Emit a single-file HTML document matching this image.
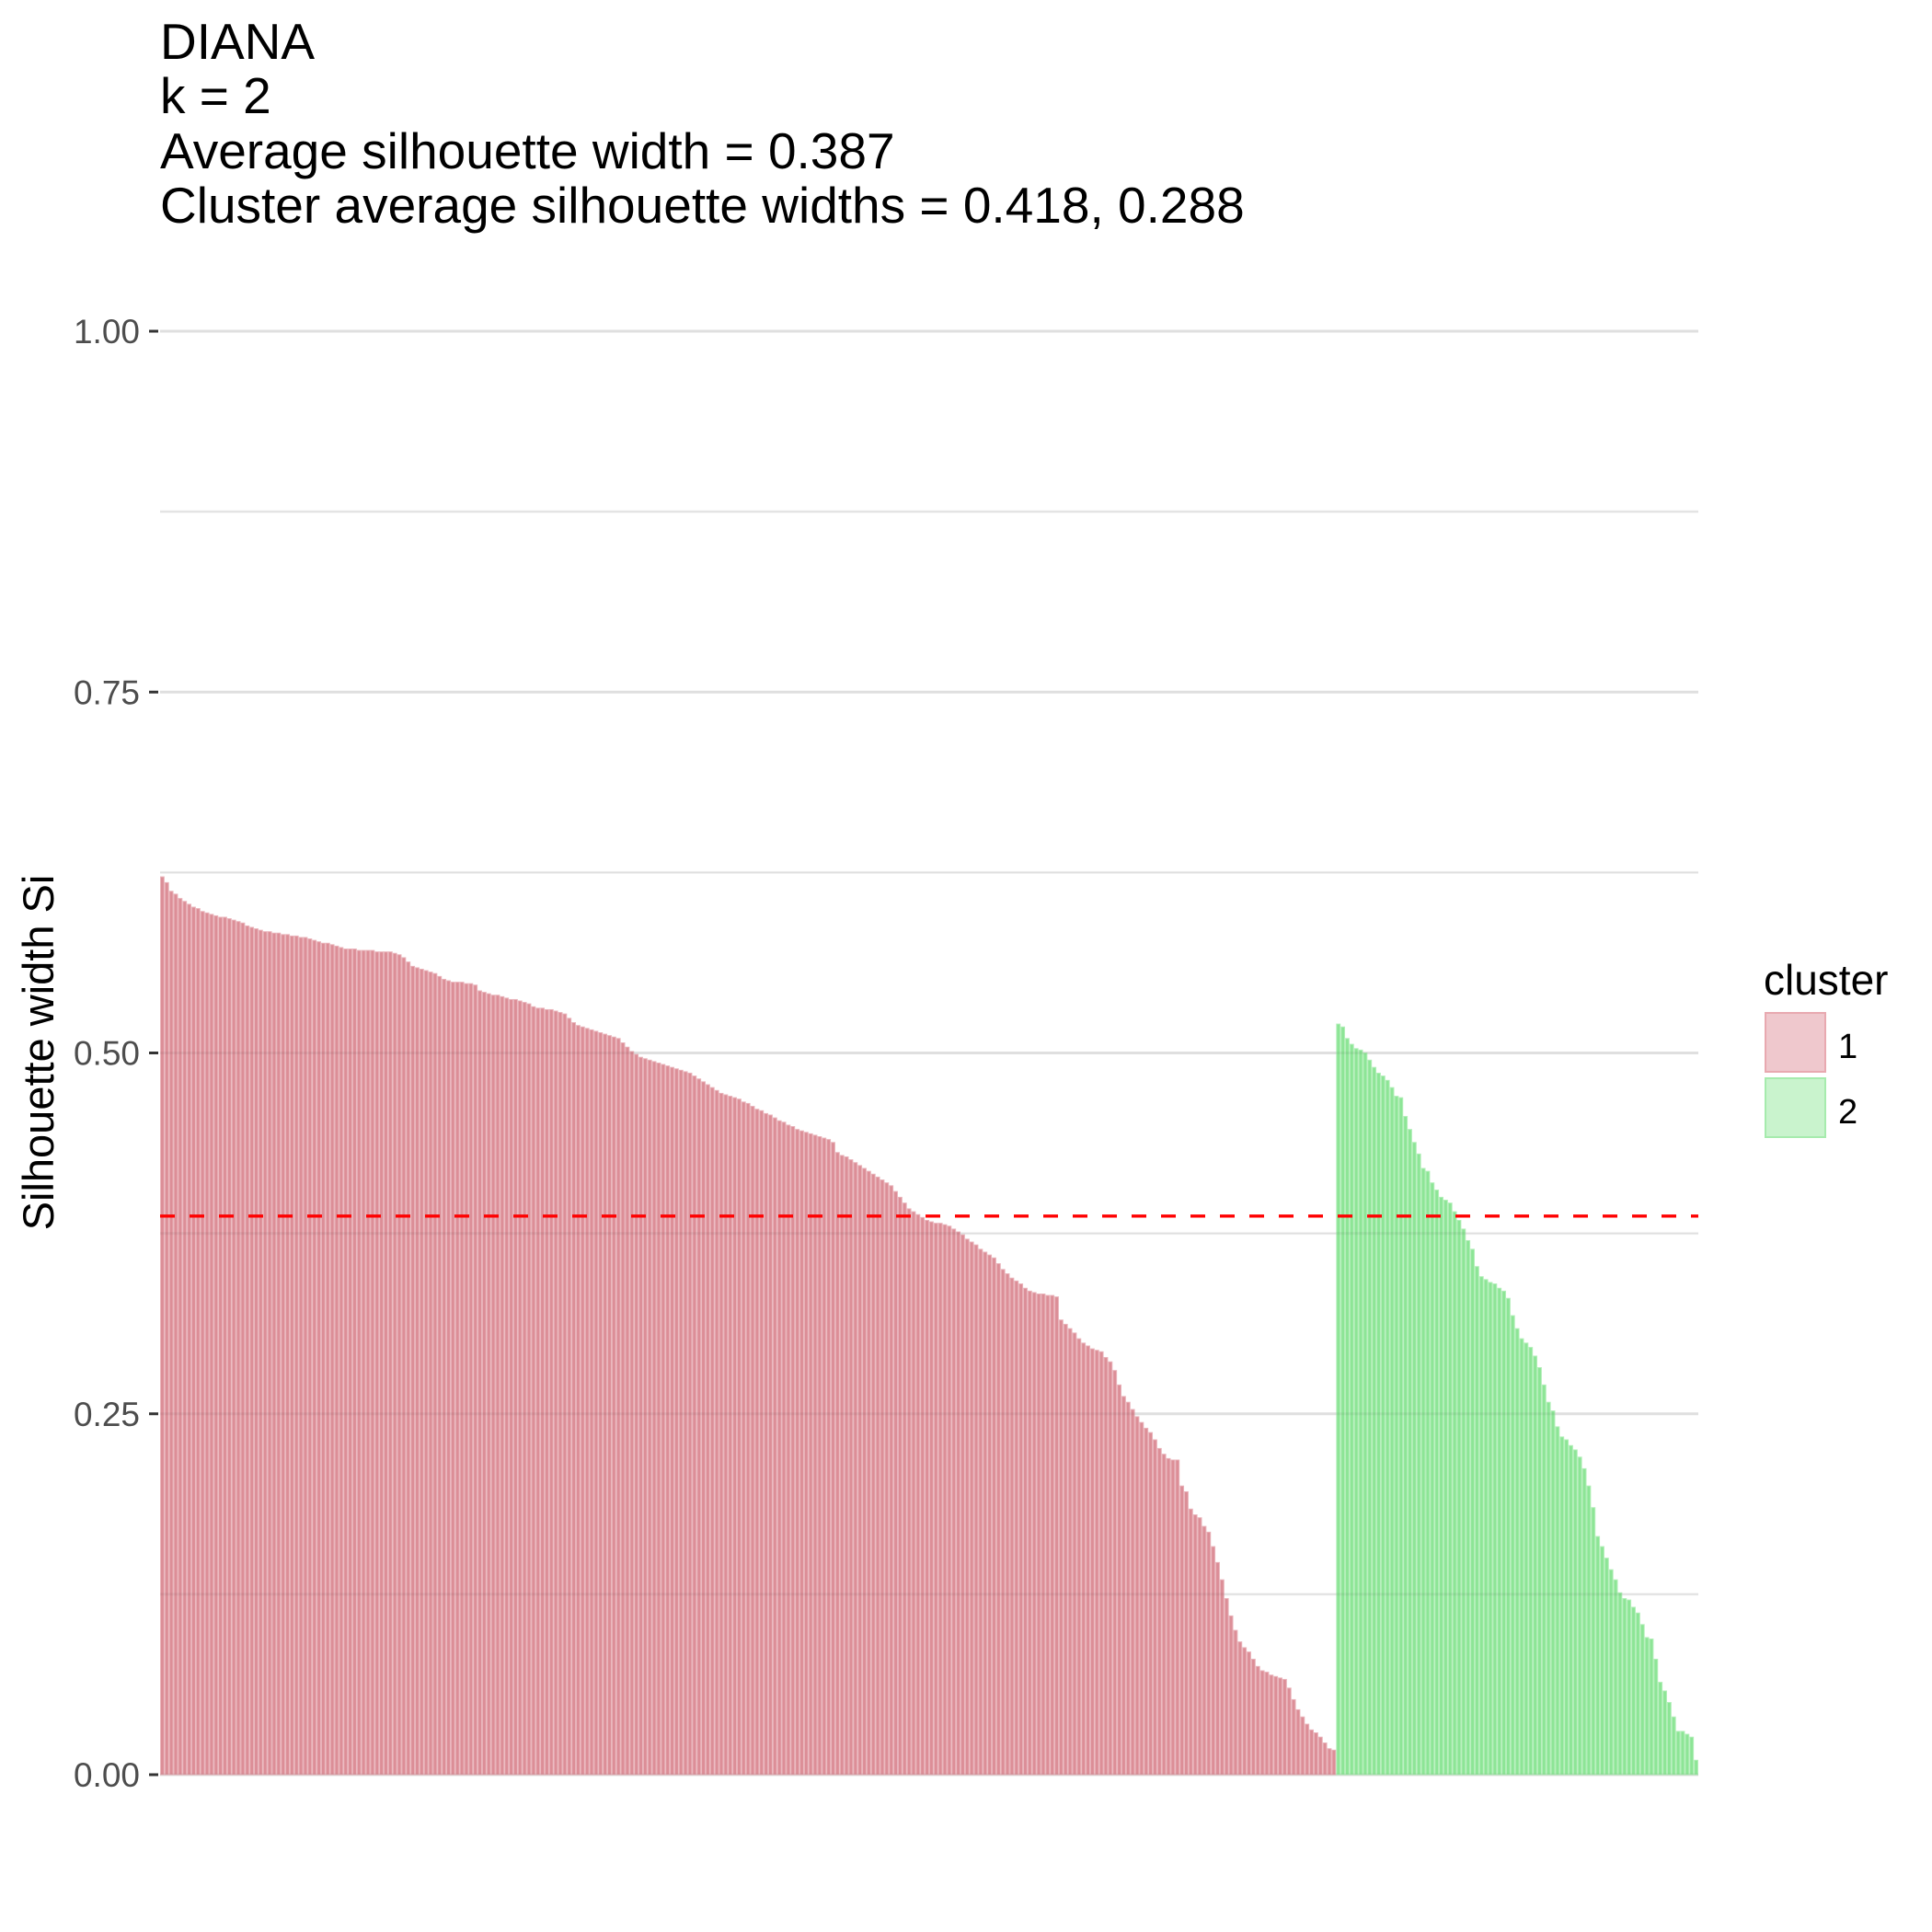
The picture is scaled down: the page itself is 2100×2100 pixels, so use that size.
<!DOCTYPE html>
<html><head><meta charset="utf-8"><style>
html,body{margin:0;padding:0;background:#fff;}
svg{display:block;font-family:"Liberation Sans",Arial,sans-serif;}
</style></head><body>
<svg id="chart" width="2100" height="2100" viewBox="0 0 2100 2100" xmlns="http://www.w3.org/2000/svg">
<g font-size="55" fill="#000">
<text x="174" y="64">DIANA</text>
<text x="174" y="123">k = 2</text>
<text x="174" y="183">Average silhouette width = 0.387</text>
<text x="174" y="242">Cluster average silhouette widths = 0.418, 0.288</text>
</g>
<g id="grid"></g>
<g id="bars"></g>
<g id="gridtop"></g>
<g id="yaxis"></g>
<line id="avgline" stroke="#ff0000" stroke-width="3.3" stroke-dasharray="16 16"/>
<text transform="translate(58,1144) rotate(-90)" text-anchor="middle" font-size="47" fill="#000">Silhouette width Si</text>
<g>
<text x="1917" y="1081" font-size="46" fill="#000">cluster</text>
<rect x="1919" y="1101" width="65" height="64" fill="#efc8cd" stroke="#e8a9b0" stroke-width="2"/>
<text x="1998" y="1150" font-size="38" fill="#000">1</text>
<rect x="1919" y="1172" width="65" height="64" fill="#c9f3cd" stroke="#a6ebad" stroke-width="2"/>
<text x="1998" y="1221" font-size="38" fill="#000">2</text>
</g>
</svg>
<script>
const cluster1Values = [
0.622,0.618,0.612,0.610,0.607,0.605,0.603,0.601,0.600,0.598,
0.597,0.596,0.595,0.594,0.594,0.593,0.592,0.591,0.590,0.588,
0.587,0.586,0.585,0.584,0.584,0.583,0.583,0.582,0.582,0.581,0.581,0.580,0.580,
0.579,0.578,0.577,0.576,0.576,0.575,0.574,0.573,
0.572,0.572,0.572,0.571,0.571,0.571,0.571,0.570,0.570,0.570,0.570,0.569,0.568,0.566,0.563,
0.560,0.559,0.558,0.557,0.556,0.555,
0.553,0.551,0.550,0.549,0.549,0.549,0.548,0.548,0.547,
0.543,0.542,0.541,0.540,0.540,0.539,0.538,0.537,0.537,0.536,0.535,0.534,
0.532,0.531,0.531,0.530,0.530,0.529,0.528,0.527,
0.524,0.521,0.519,0.518,0.517,0.516,
0.515,0.514,0.513,0.512,0.511,0.510,0.507,
0.504,0.501,0.499,0.497,0.496,0.495,0.494,0.493,0.492,
0.491,0.490,0.489,0.488,0.487,0.486,0.484,0.482,
0.480,0.478,0.476,0.474,0.472,0.471,0.470,0.469,0.468,0.466,
0.465,0.463,0.461,0.460,0.458,0.457,0.455,0.453,0.452,0.450,0.449,
0.447,0.446,0.445,0.444,0.443,0.442,0.441,0.440,0.438,
0.431,0.429,0.428,0.426,0.424,0.422,
0.420,0.418,0.416,0.414,0.412,0.410,0.408,
0.404,0.400,0.396,0.392,0.390,
0.388,0.386,0.384,0.383,0.382,0.382,
0.381,0.380,0.378,0.376,0.374,0.371,
0.369,0.367,0.364,0.362,0.360,0.358,
0.354,0.350,0.347,0.344,0.342,0.340,
0.337,0.335,0.334,0.333,0.333,0.332,0.332,0.331,
0.315,0.312,0.309,0.306,0.302,
0.299,0.297,0.295,0.294,0.293,0.289,
0.286,0.280,0.270,0.262,
0.258,0.253,0.248,0.244,
0.240,0.237,0.232,0.226,
0.222,0.219,0.218,0.218,
0.200,0.196,0.184,0.180,
0.178,0.172,0.168,0.158,
0.147,0.135,0.122,0.110,
0.100,0.092,0.088,0.085,
0.080,0.075,0.072,0.071,
0.069,0.068,0.067,0.066,0.060,
0.052,0.045,0.040,0.035,0.031,
0.029,0.026,0.022,0.018,0.017];
const cluster2Values = [
0.520,0.518,0.510,0.506,0.503,0.502,0.500,0.495,0.490,0.486,
0.484,0.481,0.476,0.470,0.469,0.456,0.447,0.438,0.430,0.420,
0.418,0.410,0.405,0.400,0.398,0.396,0.390,0.384,0.378,0.370,
0.364,0.352,0.345,0.343,0.341,0.340,0.337,0.335,0.330,0.318,
0.309,0.302,0.299,0.296,0.290,0.282,0.270,0.258,0.252,0.241,
0.234,0.232,0.228,0.225,0.220,0.212,0.200,0.185,0.165,0.158,
0.150,0.142,0.135,0.126,0.122,0.121,0.116,0.112,0.104,0.095,
0.094,0.080,0.064,0.058,0.050,0.040,0.030,0.030,0.028,0.026,0.010];
const averageWidth = 0.387;
const yTicks = [0, 0.25, 0.5, 0.75, 1.0];
const yTickLabels = ["0.00","0.25","0.50","0.75","1.00"];
const yMinor = [0.125, 0.375, 0.625, 0.875];

const NS = "http://www.w3.org/2000/svg";
const panelL = 174, panelR = 1846, y0px = 1929, y1px = 360;
const yScale = v => y0px - (y0px - y1px) * v;
const nBars = cluster1Values.length + cluster2Values.length;
const bw = (panelR - panelL) / nBars;
const xScale = i => panelL + i * bw;

function mk(tag, attrs, parent){const e=document.createElementNS(NS,tag);for(const k in attrs)e.setAttribute(k,attrs[k]);parent.appendChild(e);return e;}

const grid = document.getElementById('grid');
const gridTop = document.getElementById('gridtop');
yMinor.forEach(v=>{
  const l=mk('line',{x1:panelL,x2:panelR,y1:yScale(v),y2:yScale(v),stroke:'#ebebeb','stroke-width':1.6},grid);
  
  
});
yTicks.forEach(v=>{
  const l=mk('line',{x1:panelL,x2:panelR,y1:yScale(v),y2:yScale(v),stroke:'#ebebeb','stroke-width':3},grid);
  
  
});

const bars = document.getElementById('bars');
const all = cluster1Values.map(v=>[v,1]).concat(cluster2Values.map(v=>[v,2]));
all.forEach((d,i)=>{
  const v=d[0], c=d[1];
  const y=yScale(v);
  const r=mk('rect',{x:xScale(i)+0.5,y:y,width:bw-1,height:y0px-y,
    fill:c===1?'#dc8e97':'#8de596',stroke:c===1?'#e9b3ba':'#b3efb9','stroke-width':1},bars);
  
  
});

yTicks.concat(yMinor).forEach(v=>{
  const l=mk('line',{x1:panelL,x2:panelR,y1:yScale(v),y2:yScale(v),stroke:'rgba(0,0,0,0.05)','stroke-width':3},gridTop);
  
  
});

const yaxis = document.getElementById('yaxis');
yTicks.forEach((v,k)=>{
  const y=yScale(v);
  const t=mk('line',{x1:162,x2:172,y1:y,y2:y,stroke:'#333','stroke-width':3},yaxis);
  
  
  const tx=mk('text',{x:152,y:y+13,'text-anchor':'end','font-size':37,fill:'#4d4d4d'},yaxis);
  tx.textContent=yTickLabels[k];
  
  
});

const al=document.getElementById('avgline');
al.setAttribute('x1',panelL);al.setAttribute('x2',panelR);
al.setAttribute('y1',yScale(averageWidth));al.setAttribute('y2',yScale(averageWidth));
</script>
</body></html>
